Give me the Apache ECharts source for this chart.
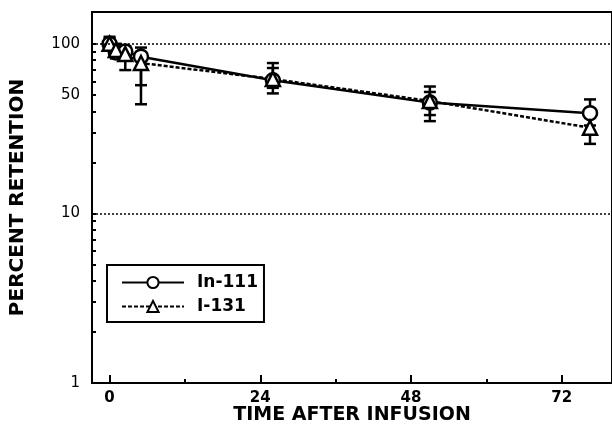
<!DOCTYPE html>
<html>
<head>
<meta charset="utf-8">
<script src="https://cdn.jsdelivr.net/npm/echarts@6/dist/echarts.min.js"></script>
<style>
  html, body { margin: 0; padding: 0; background: #fff; }
  #chart { width: 612px; height: 445px; }
</style>
</head>
<body>
<div id="chart"></div>
<script>
// hours after infusion
const times = [0, 1, 2.5, 5, 26, 51, 76.5]
// percent retention, In-111
const in111 = [100, 89, 90, 84, 61, 45, 39]
const in111Lo = [95, 82, 80, 57, 55, 38, 33]
const in111Hi = [108, 96, 97, 95, 72, 52, 47]
// percent retention, I-131
const i131 = [100, 92, 87, 77, 62, 46, 32]
const i131Lo = [94, 85, 70, 44, 51, 35, 25.7]
const i131Hi = [110, 100, 96, 89, 77, 56, 38]

const xMajor = [0, 24, 48, 72]
const xMinor = [12, 36, 60]
const yTicks = [1, 2, 3, 4, 5, 6, 7, 8, 9, 10, 20, 30, 40, 50, 60, 70, 80, 90, 100]
const yLabels = [1, 10, 50, 100]
const refLines = [100, 10]

const font = 'DejaVu Sans'

function pairs (xs, ys) {
  return xs.map((x, i) => [x, ys[i]])
}

function errData (lo, hi) {
  return times.map((t, i) => [t, lo[i], hi[i]])
}

// vertical bar with caps at both ends
function renderErr (params, api) {
  const top = api.coord([api.value(0), api.value(2)])
  const bot = api.coord([api.value(0), api.value(1)])
  const w = 6
  const st = { stroke: '#000', lineWidth: 2.5 }
  return {
    type: 'group',
    children: [
      { type: 'line', shape: { x1: top[0], y1: top[1], x2: bot[0], y2: bot[1] }, style: st },
      { type: 'line', shape: { x1: top[0] - w, y1: top[1], x2: top[0] + w, y2: top[1] }, style: st },
      { type: 'line', shape: { x1: bot[0] - w, y1: bot[1], x2: bot[0] + w, y2: bot[1] }, style: st }
    ]
  }
}

const chart = echarts.init(document.getElementById('chart'))

const xBase = {
  type: 'value',
  min: -2.8,
  max: 80,
  position: 'bottom',
  axisLine: { show: true, onZero: false, lineStyle: { color: '#000', width: 2 } },
  splitLine: { show: false }
}

chart.setOption({
  animation: false,
  grid: {
    left: 92, top: 12, right: -10, bottom: 62,
    show: true, borderColor: '#000', borderWidth: 2, backgroundColor: 'transparent'
  },
  legend: {
    orient: 'vertical',
    left: 107,
    top: 265,
    padding: [9, 6, 7, 14],
    borderColor: '#000',
    borderWidth: 2,
    itemWidth: 62,
    itemHeight: 14,
    itemGap: 7,
    textStyle: {
      fontFamily: font, fontWeight: 'bold', fontSize: 17, color: '#000',
      padding: [0, 0, 0, 8]
    },
    data: ['In-111', 'I-131']
  },
  xAxis: [
    Object.assign({}, xBase, {
      axisTick: { show: true, inside: true, length: 8, lineStyle: { color: '#000', width: 2 }, customValues: xMajor },
      axisLabel: {
        customValues: xMajor, margin: 8,
        fontFamily: font, fontWeight: 'bold', fontSize: 15, color: '#000'
      },
      name: 'TIME AFTER INFUSION',
      nameLocation: 'middle',
      nameGap: 23,
      nameMoveOverlap: false,
      nameTextStyle: { fontFamily: font, fontWeight: 'bold', fontSize: 19, color: '#000' }
    }),
    Object.assign({}, xBase, {
      axisTick: { show: true, inside: true, length: 4, lineStyle: { color: '#000', width: 2 }, customValues: xMinor },
      axisLabel: { show: false }
    })
  ],
  yAxis: {
    type: 'log',
    logBase: 10,
    min: 1,
    max: 154,
    axisLine: { show: true, onZero: false, lineStyle: { color: '#000', width: 2 } },
    axisTick: { show: true, inside: true, length: 4, lineStyle: { color: '#000', width: 2 }, customValues: yTicks },
    axisLabel: {
      customValues: yLabels, margin: 12,
      fontFamily: font, fontSize: 15, color: '#000',
      formatter: v => String(v)
    },
    splitLine: { show: false },
    minorTick: { show: false },
    name: 'PERCENT RETENTION',
    nameLocation: 'middle',
    nameGap: 64,
    nameMoveOverlap: false,
    nameTextStyle: { fontFamily: font, fontWeight: 'bold', fontSize: 20, color: '#000' }
  },
  series: [
    {
      name: 'In-111',
      type: 'line',
      data: pairs(times, in111),
      symbol: 'circle',
      symbolSize: 14,
      itemStyle: { color: '#fff', borderColor: '#000', borderWidth: 2.5 },
      lineStyle: { color: '#000', width: 2.5, type: 'solid' },
      z: 4,
      markLine: {
        silent: true,
        symbol: 'none',
        label: { show: false },
        lineStyle: { color: '#000', width: 1.5, type: [2, 2] },
        data: refLines.map(v => ({ yAxis: v }))
      }
    },
    {
      name: 'I-131',
      type: 'line',
      data: pairs(times, i131),
      symbol: 'triangle',
      symbolSize: 14,
      itemStyle: { color: '#fff', borderColor: '#000', borderWidth: 2.5 },
      lineStyle: { color: '#000', width: 2.5, type: [4, 2] },
      z: 4
    },
    {
      type: 'custom',
      renderItem: renderErr,
      data: errData(in111Lo, in111Hi),
      z: 3
    },
    {
      type: 'custom',
      renderItem: renderErr,
      data: errData(i131Lo, i131Hi),
      z: 3
    }
  ]
})
</script>
</body>
</html>
